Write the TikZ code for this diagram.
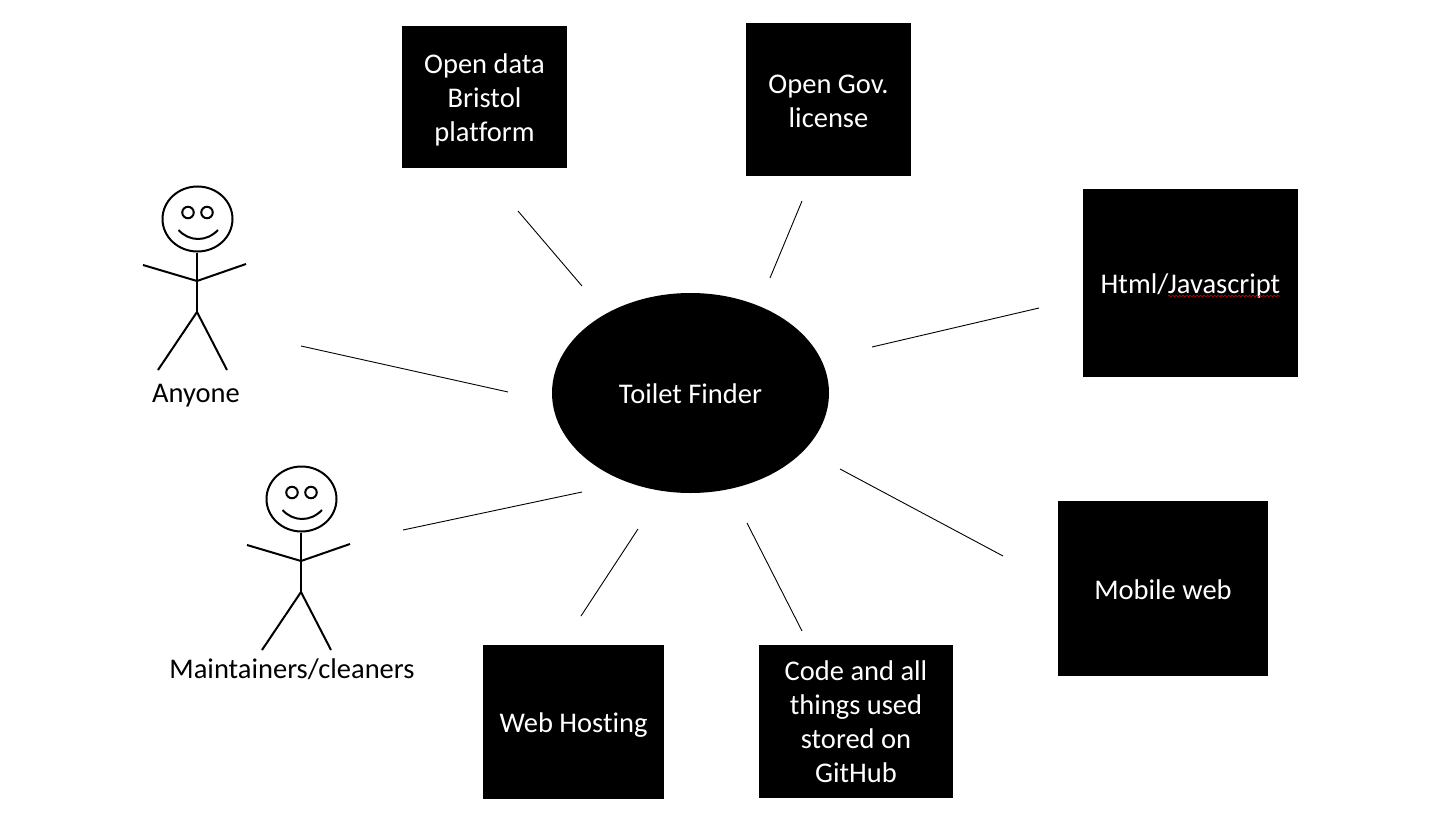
\documentclass[tikz,border=0pt]{standalone}
\usepackage{fontspec}
\setmainfont{Carlito}[Ligatures=NoCommon]
\usetikzlibrary{decorations.pathmorphing, shapes.geometric}
\tikzset{
	linebox/.style={execute at begin node={\rule[-6.5pt]{0pt}{34pt}}, execute at end node={\rule[-6.5pt]{0pt}{34pt}}},
	toplift/.style={execute at begin node={\rule{0pt}{#1}}},
	blackbox/.style={linebox, fill=black, text=white, align=center, inner sep=0pt, font=\fontsize{28.5}{34}\selectfont},
	hub/.style={blackbox, ellipse, minimum width=277pt, minimum height=200pt},
	spoke/.style={draw=black, line width=0.9pt},
	limb/.style={draw=black, line width=2pt},
	caption/.style={linebox, text=black, inner sep=0pt, font=\fontsize{28.5}{34}\selectfont},
}
\begin{document}
\begin{tikzpicture}[x=1pt, y=-1pt]
	\useasboundingbox (0, 0) rectangle (1453, 821);
	% Centre and boxes:
	\node[hub](Hub) at (690.5, 393){Toilet Finder};
	\node[blackbox, toplift=96pt, minimum width=165pt, minimum height=142pt](OpenData) at (484.5, 97){Open data\\Bristol\\platform};
	\node[blackbox, toplift=63.5pt, minimum width=165pt, minimum height=153pt](OpenGov) at (828.5, 99.5){Open Gov.\\license};
	\node[blackbox, minimum width=215pt, minimum height=188pt](Html) at (1190.5, 283){Html/Javascript};
	\node[blackbox, minimum width=210pt, minimum height=175pt](Mobile) at (1163, 588.5){Mobile web};
	\node[blackbox, toplift=128pt, minimum width=194pt, minimum height=153pt](GitHub) at (856, 721.5){Code and all\\things used\\stored on\\GitHub};
	\node[blackbox, minimum width=181pt, minimum height=154pt](Hosting) at (573.5, 722){Web Hosting};
	% Spelling mark under the word:
	\coordinate(MarkA) at (1168, 296);
	\coordinate(MarkB) at (1280, 296);
	\draw[red!80!black, line width=0.6pt, decorate, decoration={snake, amplitude=0.8pt, segment length=3.5pt}] (MarkA) -- (MarkB);
	% Stick figures:
	\foreach \man/\px/\py in {Anyone/197.5/219, Cleaner/301.5/499}{
		\begin{scope}[shift={(\px, \py)}]
			\node[ellipse, limb, minimum width=70pt, minimum height=65pt, inner sep=0pt](\man Head) at (0, 0){};
			\node[circle, limb, minimum size=11.5pt, inner sep=0pt](\man EyeL) at (-9.5, -6.5){};
			\node[circle, limb, minimum size=11.5pt, inner sep=0pt](\man EyeR) at (9.5, -6.5){};
			\coordinate(\man Neck) at (-0.5, 62);
			\coordinate(\man Hip) at (-0.5, 93);
			\coordinate(\man HandL) at (-54.5, 46);
			\coordinate(\man HandR) at (48.5, 45);
			\coordinate(\man FootL) at (-39.5, 151);
			\coordinate(\man FootR) at (29.5, 151);
			\coordinate(\man SmileL) at (-19, 11);
			\coordinate(\man SmileR) at (20.5, 11);
			\draw[limb] (\man Head.south -| \man Hip) -- (\man Hip);
			\draw[limb] (\man HandL) -- (\man Neck) -- (\man HandR);
			\draw[limb] (\man FootL) -- (\man Hip) -- (\man FootR);
			\draw[limb] (\man SmileL) .. controls (-8, 23) and (9, 23) .. (\man SmileR);
		\end{scope}
	}
	\node[caption](AnyoneText) at (196, 392){Anyone};
	\node[caption](CleanerText) at (292, 668){Maintainers/cleaners};
	% Spokes, none of them reaches its shape:
	\coordinate(S1) at (518, 211);
	\coordinate(H1) at (582, 286);
	\coordinate(S2) at (802, 201);
	\coordinate(H2) at (770, 278);
	\coordinate(S3) at (1039, 308);
	\coordinate(H3) at (872, 347);
	\coordinate(S4) at (1003, 556);
	\coordinate(H4) at (840, 469);
	\coordinate(S5) at (802, 631);
	\coordinate(H5) at (747, 523);
	\coordinate(S6) at (581, 616);
	\coordinate(H6) at (638, 529);
	\coordinate(S7) at (403, 530);
	\coordinate(H7) at (582, 492);
	\coordinate(S8) at (301, 346);
	\coordinate(H8) at (508, 392);
	\foreach \i in {1,...,8}{
		\draw[spoke] (S\i) -- (H\i);
	}
\end{tikzpicture}
\end{document}
